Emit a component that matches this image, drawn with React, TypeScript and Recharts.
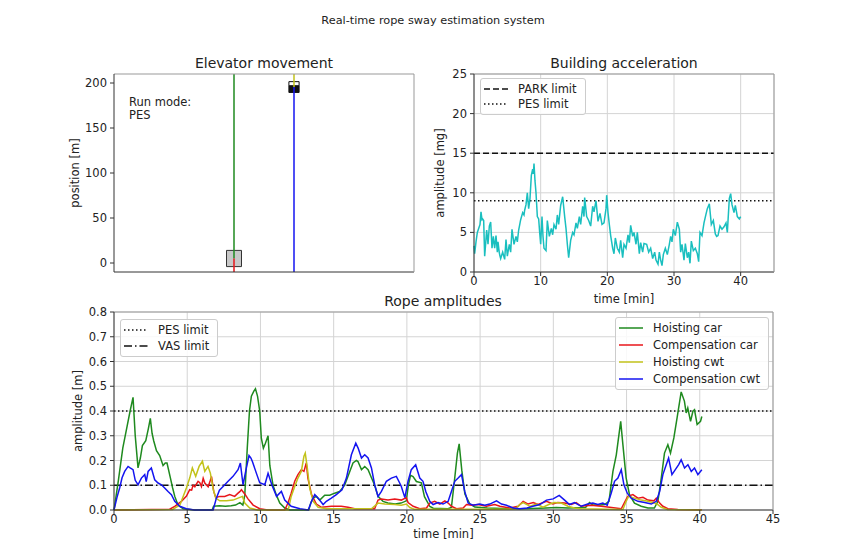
import React from 'react';
import { LineChart, Line, XAxis, YAxis, CartesianGrid, ReferenceLine, ReferenceArea, Legend, Label } from 'recharts';

// ---- elevator movement ----
const SHAFT_TOP = 210;
const SHAFT_BOTTOM = -10;
const CAR_X = 4;
const CWT_X = 6;
const CAR_POSITION = 5;
const CWT_POSITION = 195.5;
const RUN_MODE = 'PES';

// ---- building acceleration (mg) ----
const accTime = [
  0, 0.1, 0.3, 0.5, 0.7, 0.9, 1.05, 1.2, 1.3, 1.45, 1.6, 1.75, 1.9, 2.1, 2.3, 2.5, 2.7, 2.9, 3.1, 3.3,
  3.5, 3.6, 3.8, 3.9, 4.0, 4.3, 4.6, 4.8, 5.0, 5.3, 5.5, 5.7, 6.0, 6.3, 6.5, 6.7, 7.0, 7.3, 7.5, 7.6,
  7.8, 8.0, 8.2, 8.4, 8.6, 8.8, 8.9, 9.0, 9.15, 9.3, 9.5, 9.7, 9.85, 10.0, 10.2, 10.35, 10.5, 10.8, 11.0, 11.3,
  11.6, 11.8, 12.0, 12.3, 12.5, 12.7, 13.0, 13.3, 13.6, 13.8, 14.0, 14.2, 14.5, 14.8, 15.0, 15.3, 15.5, 15.8, 16.0, 16.3,
  16.5, 16.6, 16.9, 17.2, 17.5, 17.8, 18.0, 18.3, 18.6, 18.9, 19.2, 19.5, 19.8, 19.9, 20.1, 20.3, 20.5, 20.8, 21.0, 21.2,
  21.5, 21.8, 22.0, 22.3, 22.5, 22.8, 23.1, 23.3, 23.5, 23.8, 24.0, 24.3, 24.5, 24.8, 25.0, 25.3, 25.5, 25.9, 26.2, 26.5,
  26.8, 27.1, 27.3, 27.6, 27.8, 28.0, 28.2, 28.4, 28.7, 29.0, 29.3, 29.5, 29.7, 29.9, 30.2, 30.5, 30.8, 31.0, 31.2, 31.5,
  31.7, 32.0, 32.2, 32.4, 32.6, 32.9, 33.2, 33.5, 33.7, 33.9, 34.2, 34.5, 34.8, 35.0, 35.3, 35.6, 35.9, 36.2, 36.4, 36.6,
  36.9, 37.2, 37.5, 37.8, 38.0, 38.3, 38.5, 38.7, 39.0, 39.2, 39.5, 39.8, 40.0,
];
const accValue = [
  3.3, 2.3, 3.8, 5.0, 5.5, 6.0, 7.6, 6.6, 6.7, 6.5, 2.0, 3.6, 5.3, 3.5, 5.8, 6.3, 3.0, 4.5, 3.0, 4.6,
  2.5, 3.8, 2.4, 2.0, 1.7, 2.5, 1.6, 4.1, 2.0, 3.5, 2.5, 5.4, 3.5, 4.5, 3.8, 5.3, 6.6, 7.5, 7.2, 7.8,
  8.5, 10.0, 8.0, 9.3, 12.2, 13.0, 12.4, 13.7, 11.5, 10.0, 7.0, 6.7, 5.0, 3.5, 7.0, 4.5, 3.0, 2.7, 6.5, 4.5,
  5.5, 4.7, 6.0, 5.4, 7.2, 6.0, 8.4, 9.5, 7.0, 5.5, 3.5, 1.8, 4.0, 5.0, 4.7, 6.2, 5.5, 7.0, 6.0, 8.3,
  7.0, 9.4, 7.0, 6.5, 5.8, 8.3, 7.6, 9.0, 6.4, 7.4, 6.0, 6.2, 8.0, 9.7, 7.5, 6.0, 4.6, 3.0, 2.3, 4.3,
  3.0, 2.5, 4.0, 1.8, 3.5, 3.0, 4.7, 3.7, 5.9, 4.5, 5.0, 3.5, 5.0, 2.3, 3.7, 2.5, 3.6, 3.5, 2.5, 3.0,
  1.7, 2.5, 1.5, 1.0, 2.5, 1.5, 0.8, 2.2, 3.0, 2.2, 3.5, 4.5, 3.8, 5.4, 4.6, 6.3, 5.4, 2.5, 3.5, 1.5,
  3.6, 1.8, 2.5, 1.1, 3.9, 2.7, 3.0, 2.3, 1.3, 5.0, 4.6, 6.2, 7.3, 8.0, 8.6, 6.0, 6.5, 4.8, 4.5, 4.6,
  5.8, 5.4, 5.7, 6.2, 5.0, 9.3, 9.9, 8.5, 7.5, 8.4, 7.0, 6.7, 7.0,
];
const PARK_LIMIT_MG = 15;
const PES_LIMIT_MG = 9;

// ---- rope amplitudes (m) ----
const hoistCarTime = [
  0, 0.3, 0.6, 0.9, 1.1, 1.3, 1.45, 1.64, 1.8, 1.94, 2.17, 2.35, 2.48, 2.6, 2.71, 2.9, 3.12, 3.35, 3.5, 3.62,
  3.85, 4.0, 4.15, 4.37, 4.72, 5.5, 6.7, 6.8, 7.2, 7.6, 8.0, 8.3, 8.6, 8.8, 8.93, 9.1, 9.25, 9.38, 9.55, 9.66,
  9.8, 9.95, 10.06, 10.2, 10.34, 10.52, 10.64, 10.86, 11.09, 11.32, 11.66, 12, 13.3, 13.45, 13.6, 13.82, 14.05, 14.39, 14.73, 15.07,
  15.41, 15.75, 16.1, 16.32, 16.55, 16.66, 16.9, 17.12, 17.35, 17.58, 17.8, 18.03, 18.37, 18.7, 19.2, 19.6, 19.96, 20.1, 20.25, 20.42,
  20.65, 20.99, 21.2, 21.57, 21.8, 22.8, 23.04, 23.25, 23.45, 23.57, 23.75, 23.96, 24.3, 24.64, 25.5, 27, 28, 29.5, 30.2, 31,
  32.2, 32.47, 32.7, 33.2, 33.5, 33.8, 34.07, 34.3, 34.6, 34.75, 34.97, 35.2, 35.54, 36.0, 36.46, 36.9, 37.14, 37.37, 37.59, 37.82,
  38.0, 38.23, 38.45, 38.73, 38.95, 39.07, 39.18, 39.37, 39.53, 39.64, 39.82, 40.05, 40.14,
];
const hoistCarValue = [
  0, 0.12, 0.25, 0.34, 0.4, 0.455, 0.3, 0.17, 0.21, 0.26, 0.28, 0.33, 0.37, 0.31, 0.28, 0.24, 0.22, 0.18, 0.19, 0.19,
  0.13, 0.09, 0.055, 0.02, 0.005, 0, 0, 0.015, 0.017, 0.015, 0.017, 0.02, 0.03, 0.02, 0.06, 0.25, 0.4, 0.46, 0.48, 0.49,
  0.46, 0.4, 0.29, 0.25, 0.27, 0.3, 0.18, 0.1, 0.06, 0.028, 0.008, 0, 0, 0.03, 0.048, 0.055, 0.04, 0.06, 0.06, 0.068,
  0.075, 0.1, 0.156, 0.19, 0.2, 0.196, 0.163, 0.176, 0.163, 0.13, 0.1, 0.055, 0.035, 0.028, 0.024, 0.028, 0.037, 0.1, 0.14, 0.135,
  0.115, 0.11, 0.054, 0.014, 0.007, 0.005, 0.01, 0.12, 0.23, 0.267, 0.16, 0.065, 0.024, 0.012, 0.008, 0.005, 0.005, 0.008, 0.01, 0.008,
  0.01, 0.03, 0.02, 0.02, 0.022, 0.035, 0.156, 0.223, 0.358, 0.264, 0.13, 0.062, 0.028, 0.015, 0.008, 0.008, 0.035, 0.129, 0.23, 0.264,
  0.23, 0.291, 0.372, 0.477, 0.44, 0.392, 0.412, 0.358, 0.399, 0.405, 0.345, 0.358, 0.378,
];

const compCarTime = [
  0, 3.8, 4.15, 4.6, 4.95, 5.17, 5.3, 5.4, 5.52, 5.74, 5.86, 5.97, 6.09, 6.2, 6.43, 6.58, 6.66, 6.81, 6.95, 7.22,
  7.56, 7.9, 8.24, 8.47, 8.59, 8.7, 8.93, 9.15, 9.5, 9.95, 10.5, 11.66, 11.88, 12.1, 12.34, 12.56, 12.79, 12.97, 13.13, 13.24,
  13.49, 13.82, 14.17, 14.84, 15.52, 15.98, 16.44, 17.8, 18.03, 18.26, 18.71, 19.17, 19.62, 19.96, 20.08, 20.43, 20.88, 21.34, 21.56, 21.9,
  22.25, 22.59, 22.82, 23.04, 23.39, 23.84, 24.07, 24.41, 24.87, 25.43, 26.0, 26.35, 27.03, 27.6, 27.94, 28.28, 28.63, 28.96, 29.53, 29.97,
  30.3, 30.77, 31.22, 31.56, 31.9, 32.58, 33.27, 33.84, 34.64, 34.9, 35.08, 35.43, 35.78, 36.12, 36.46, 36.87, 37.03, 37.26, 37.48, 37.82,
  38.5, 40.14,
];
const compCarValue = [
  0, 0.003, 0.015, 0.035, 0.056, 0.082, 0.08, 0.1, 0.094, 0.116, 0.11, 0.095, 0.128, 0.109, 0.094, 0.12, 0.135, 0.075, 0.05, 0.055,
  0.055, 0.062, 0.055, 0.068, 0.074, 0.082, 0.065, 0.045, 0.02, 0.005, 0, 0, 0.028, 0.068, 0.116, 0.143, 0.163, 0.156, 0.19, 0.129,
  0.062, 0.024, 0.011, 0.015, 0.015, 0.011, 0.005, 0.005, 0.04, 0.044, 0.04, 0.044, 0.04, 0.05, 0.03, 0.015, 0.005, 0.008, 0.028, 0.035,
  0.024, 0.037, 0.028, 0.015, 0.005, 0.008, 0.022, 0.019, 0.022, 0.015, 0.022, 0.015, 0.008, 0.015, 0.035, 0.024, 0.03, 0.022, 0.035, 0.024,
  0.03, 0.028, 0.022, 0.03, 0.015, 0.019, 0.015, 0.011, 0.005, 0.035, 0.055, 0.062, 0.048, 0.051, 0.04, 0.037, 0.048, 0.028, 0.015, 0.005,
  0.002, 0.001,
];

const hoistCwtTime = [
  0, 4.0, 4.5, 4.95, 5.17, 5.35, 5.58, 5.81, 6.04, 6.2, 6.42, 6.58, 6.77, 6.95, 7.22, 7.68, 8.13, 8.47, 8.77, 8.93,
  9.27, 9.8, 11.9, 12.1, 12.34, 12.56, 12.79, 12.97, 13.06, 13.2, 13.36, 13.6, 13.94, 14.5, 17.58, 18.03, 18.49, 19.17, 19.62, 19.96,
  20.2, 20.5, 27.4, 27.7, 27.94, 28.4, 28.85, 29.3, 29.76, 30.08, 30.54, 31.0, 31.45, 31.9, 34.75, 34.97, 35.14, 35.54, 36.0, 36.46,
  36.9, 37.14, 37.37, 37.8, 40.14,
];
const hoistCwtValue = [
  0, 0.002, 0.02, 0.09, 0.129, 0.17, 0.136, 0.176, 0.197, 0.156, 0.176, 0.149, 0.085, 0.048, 0.037, 0.037, 0.04, 0.048, 0.055, 0.028,
  0.008, 0, 0, 0.055, 0.095, 0.129, 0.156, 0.217, 0.23, 0.17, 0.089, 0.035, 0.011, 0.005, 0.005, 0.028, 0.024, 0.022, 0.019, 0.024,
  0.01, 0.003, 0.003, 0.022, 0.03, 0.015, 0.024, 0.011, 0.024, 0.03, 0.028, 0.015, 0.008, 0.005, 0.002, 0.035, 0.055, 0.048, 0.04, 0.035,
  0.028, 0.022, 0.011, 0.002, 0,
];

const compCwtTime = [
  0, 0.2, 0.39, 0.55, 0.73, 0.96, 1.1, 1.3, 1.45, 1.64, 1.87, 2.1, 2.2, 2.33, 2.55, 2.78, 3.01, 3.24, 3.46, 3.69,
  3.92, 4.15, 4.49, 4.94, 5.5, 6.77, 6.99, 7.2, 7.45, 7.79, 8.13, 8.47, 8.63, 8.81, 9.04, 9.22, 9.35, 9.45, 9.72, 9.95,
  10.3, 10.52, 10.79, 11.1, 11.43, 11.66, 12.1, 12.7, 13.26, 13.49, 13.71, 13.94, 14.28, 14.5, 14.84, 15.18, 15.57, 15.87, 16.21, 16.51,
  16.67, 16.9, 17.12, 17.35, 17.58, 17.8, 18.03, 18.26, 18.6, 18.94, 19.28, 19.5, 19.62, 19.86, 20.08, 20.3, 20.6, 20.88, 21.1, 21.29,
  21.56, 21.79, 22.13, 22.47, 22.82, 23.04, 23.27, 23.5, 23.73, 23.95, 24.18, 24.52, 24.98, 25.32, 25.66, 26.12, 26.46, 26.8, 27.26, 27.7,
  28.2, 28.6, 29.08, 29.53, 29.99, 30.4, 30.77, 31.1, 31.45, 31.9, 32.35, 32.7, 33.04, 33.38, 33.68, 33.95, 34.18, 34.41, 34.64, 34.82,
  35.05, 35.32, 35.78, 36.24, 36.69, 37.03, 37.26, 37.48, 37.71, 37.87, 38.1, 38.33, 38.56, 38.73, 38.96, 39.19, 39.42, 39.64, 39.87, 40.14,
];
const compCwtValue = [
  0, 0.05, 0.09, 0.13, 0.156, 0.176, 0.17, 0.163, 0.12, 0.102, 0.129, 0.143, 0.115, 0.156, 0.17, 0.122, 0.109, 0.102, 0.089, 0.075,
  0.062, 0.035, 0.015, 0.005, 0, 0, 0.048, 0.08, 0.095, 0.116, 0.136, 0.163, 0.19, 0.102, 0.17, 0.22, 0.21, 0.196, 0.149, 0.11,
  0.102, 0.148, 0.1, 0.055, 0.075, 0.04, 0.015, 0.005, 0, 0.035, 0.062, 0.048, 0.022, 0.035, 0.048, 0.062, 0.082, 0.129, 0.223, 0.27,
  0.25, 0.21, 0.223, 0.21, 0.17, 0.102, 0.055, 0.075, 0.116, 0.129, 0.136, 0.11, 0.095, 0.05, 0.116, 0.163, 0.183, 0.129, 0.116, 0.075,
  0.035, 0.022, 0.03, 0.024, 0.035, 0.075, 0.116, 0.129, 0.143, 0.075, 0.028, 0.019, 0.024, 0.019, 0.024, 0.037, 0.024, 0.019, 0.008, 0.005,
  0.008, 0.015, 0.022, 0.04, 0.045, 0.059, 0.04, 0.022, 0.03, 0.015, 0.024, 0.028, 0.022, 0.028, 0.019, 0.068, 0.116, 0.129, 0.163, 0.102,
  0.068, 0.048, 0.035, 0.03, 0.024, 0.035, 0.075, 0.143, 0.183, 0.21, 0.143, 0.163, 0.183, 0.203, 0.17, 0.183, 0.156, 0.17, 0.143, 0.163,
];
const PES_LIMIT_M = 0.4;
const VAS_LIMIT_M = 0.1;

const accTicksX = [0, 10, 20, 30, 40];
const accTicksY = [0, 5, 10, 15, 20, 25];
const ropeTicksX = [0, 5, 10, 15, 20, 25, 30, 35, 40, 45];
const ropeTicksY = [0, 0.1, 0.2, 0.3, 0.4, 0.5, 0.6, 0.7, 0.8];
const posTicksY = [0, 50, 100, 150, 200];

const GREEN = '#1f8a1f';
const RED = '#e8161b';
const YELLOW = '#c2c21a';
const BLUE = '#1414f0';
const CYAN = '#1abfbf';
const DARK = '#333333';
const LIGHT = '#999999';
const GRID = '#d4d4d4';
const TEXT = '#222222';
const FONT = '"DejaVu Sans", Verdana, sans-serif';

const DOTTED = '1.5 2.5';
const DASHED = '6 3';
const DASHDOT = '8 3 1.5 3';

const zip = (t: number[], v: number[]) => t.map((x, i) => ({ t: x, v: v[i] }));

const accData = zip(accTime, accValue);
const ropeSeries = [
  { name: 'Hoisting car', color: GREEN, data: zip(hoistCarTime, hoistCarValue) },
  { name: 'Compensation car', color: RED, data: zip(compCarTime, compCarValue) },
  { name: 'Hoisting cwt', color: YELLOW, data: zip(hoistCwtTime, hoistCwtValue) },
  { name: 'Compensation cwt', color: BLUE, data: zip(compCwtTime, compCwtValue) },
];

type LegendItem = { label: string; color: string; dash?: string };

const LegendBox = ({ items, rowHeight }: { items: LegendItem[]; rowHeight: number }) => (
  <div
    style={{
      border: '1px solid #cccccc',
      borderRadius: 3,
      background: 'rgba(255,255,255,0.85)',
      padding: '2px 8px 2px 3px',
      fontFamily: FONT,
    }}
  >
    {items.map((it) => (
      <div key={it.label} style={{ display: 'flex', alignItems: 'center', height: rowHeight }}>
        <svg width={24} height={10}>
          <line x1={0} x2={24} y1={5} y2={5} stroke={it.color} strokeWidth={1.5} strokeDasharray={it.dash} />
        </svg>
        <span style={{ marginLeft: 10, fontSize: 11.5, color: TEXT, whiteSpace: 'nowrap' }}>{it.label}</span>
      </div>
    ))}
  </div>
);

const tickStyle = { fill: TEXT, fontSize: 11.5 };

const Title = ({ x, y, size, children }: { x: number; y: number; size: number; children: React.ReactNode }) => (
  <div
    style={{
      position: 'absolute',
      left: x,
      top: y,
      transform: 'translate(-50%, -50%)',
      fontSize: size,
      color: TEXT,
      whiteSpace: 'nowrap',
    }}
  >
    {children}
  </div>
);

// frame axes: 1px thick so recharts still draws their line (top/right spines)
const FrameTop = ({ domain }: { domain: number[] }) => (
  <XAxis xAxisId="top" orientation="top" type="number" domain={domain} tick={false} tickLine={false} height={1} axisLine={{ stroke: LIGHT }} />
);

const ElevatorChart = () => (
  <LineChart width={390} height={235} margin={{ top: 23, right: 15, bottom: 12, left: 0 }}>
    <XAxis dataKey="x" type="number" domain={[0, 10]} tick={false} tickLine={false} height={1} axisLine={{ stroke: DARK }} />
    {FrameTop({ domain: [0, 10] })}
    <YAxis
      type="number"
      domain={[SHAFT_BOTTOM, SHAFT_TOP]}
      ticks={posTicksY}
      width={74}
      tick={tickStyle}
      tickSize={4}
      tickMargin={3}
      axisLine={{ stroke: DARK }}
      tickLine={{ stroke: DARK }}
    >
      <Label value="position [m]" angle={-90} position="insideLeft" offset={35} style={{ textAnchor: 'middle', fill: TEXT, fontSize: 11.5 }} />
    </YAxis>
    <YAxis yAxisId="right" orientation="right" type="number" domain={[SHAFT_BOTTOM, SHAFT_TOP]} width={1} tick={false} tickLine={false} axisLine={{ stroke: LIGHT }} />
    {/* ropes */}
    <Line data={[{ x: CAR_X, y: CAR_POSITION }, { x: CAR_X, y: SHAFT_TOP }]} dataKey="y" stroke={GREEN} strokeWidth={1.5} dot={false} isAnimationActive={false} />
    <Line data={[{ x: CAR_X, y: SHAFT_BOTTOM }, { x: CAR_X, y: CAR_POSITION }]} dataKey="y" stroke={RED} strokeWidth={1.5} dot={false} isAnimationActive={false} />
    <Line data={[{ x: CWT_X, y: CWT_POSITION }, { x: CWT_X, y: SHAFT_TOP }]} dataKey="y" stroke={YELLOW} strokeWidth={1.5} dot={false} isAnimationActive={false} />
    <Line data={[{ x: CWT_X, y: SHAFT_BOTTOM }, { x: CWT_X, y: CWT_POSITION }]} dataKey="y" stroke={BLUE} strokeWidth={1.5} dot={false} isAnimationActive={false} />
    {/* car and counterweight */}
    <ReferenceArea x1={CAR_X - 0.25} x2={CAR_X + 0.25} y1={CAR_POSITION - 9} y2={CAR_POSITION + 9} fill="#c8c8c8" fillOpacity={1} stroke={DARK} strokeWidth={1} />
    <ReferenceArea x1={CWT_X - 0.17} x2={CWT_X + 0.17} y1={CWT_POSITION - 6} y2={CWT_POSITION + 1.5} fill="#111111" fillOpacity={1} stroke="#111111" />
    <ReferenceArea x1={CWT_X - 0.17} x2={CWT_X + 0.17} y1={CWT_POSITION + 1.5} y2={CWT_POSITION + 6} fill="#ffffff" fillOpacity={1} stroke="#111111" />
  </LineChart>
);

const AccelerationChart = () => (
  <LineChart width={360} height={260} margin={{ top: 23, right: 15, bottom: 0, left: 0 }}>
    <CartesianGrid stroke={GRID} strokeWidth={1} />
    <XAxis
      dataKey="t"
      type="number"
      domain={[0, 45]}
      ticks={accTicksX}
      height={38}
      tick={tickStyle}
      tickSize={4}
      tickMargin={1}
      axisLine={{ stroke: DARK }}
      tickLine={{ stroke: DARK }}
    >
      <Label value="time [min]" position="insideBottom" offset={7} style={{ fill: TEXT, fontSize: 11.5 }} />
    </XAxis>
    {FrameTop({ domain: [0, 45] })}
    <YAxis
      type="number"
      domain={[0, 25]}
      ticks={accTicksY}
      width={44}
      tick={tickStyle}
      tickSize={4}
      tickMargin={3}
      axisLine={{ stroke: DARK }}
      tickLine={{ stroke: DARK }}
    >
      <Label value="amplitude [mg]" angle={-90} position="insideLeft" offset={10} style={{ textAnchor: 'middle', fill: TEXT, fontSize: 11.5 }} />
    </YAxis>
    <YAxis yAxisId="right" orientation="right" type="number" domain={[0, 25]} width={1} tick={false} tickLine={false} axisLine={{ stroke: LIGHT }} />
    <ReferenceLine y={PARK_LIMIT_MG} stroke="#111111" strokeWidth={1.5} strokeDasharray={DASHED} />
    <ReferenceLine y={PES_LIMIT_MG} stroke="#111111" strokeWidth={1.5} strokeDasharray={DOTTED} />
    <Line data={accData} dataKey="v" stroke={CYAN} strokeWidth={1.5} dot={false} isAnimationActive={false} />
    <Legend
      verticalAlign="middle"
      wrapperStyle={{ left: 50, top: 28, width: 'auto' }}
      content={() => (
        <LegendBox
          rowHeight={15.5}
          items={[
            { label: 'PARK limit', color: '#111111', dash: DASHED },
            { label: 'PES limit', color: '#111111', dash: DOTTED },
          ]}
        />
      )}
    />
  </LineChart>
);

const RopeChart = () => (
  <LineChart width={730} height={252} margin={{ top: 21, right: 16, bottom: 0, left: 0 }}>
    <CartesianGrid stroke={GRID} strokeWidth={1} />
    <XAxis
      dataKey="t"
      type="number"
      domain={[0, 45]}
      ticks={ropeTicksX}
      height={32}
      tick={tickStyle}
      tickSize={4}
      tickMargin={1}
      axisLine={{ stroke: DARK }}
      tickLine={{ stroke: DARK }}
    >
      <Label value="time [min]" position="insideBottom" offset={4} style={{ fill: TEXT, fontSize: 11.5 }} />
    </XAxis>
    {FrameTop({ domain: [0, 45] })}
    <YAxis
      type="number"
      domain={[0, 0.8]}
      ticks={ropeTicksY}
      tickFormatter={(v: number) => v.toFixed(1)}
      width={54}
      tick={tickStyle}
      tickSize={4}
      tickMargin={3}
      axisLine={{ stroke: DARK }}
      tickLine={{ stroke: DARK }}
    >
      <Label value="amplitude [m]" angle={-90} position="insideLeft" offset={18} style={{ textAnchor: 'middle', fill: TEXT, fontSize: 11.5 }} />
    </YAxis>
    <YAxis yAxisId="right" orientation="right" type="number" domain={[0, 0.8]} width={1} tick={false} tickLine={false} axisLine={{ stroke: LIGHT }} />
    <ReferenceLine y={PES_LIMIT_M} stroke="#111111" strokeWidth={1.5} strokeDasharray={DOTTED} />
    <ReferenceLine y={VAS_LIMIT_M} stroke="#111111" strokeWidth={1.5} strokeDasharray={DASHDOT} />
    {ropeSeries.map((s) => (
      <Line key={s.name} name={s.name} data={s.data} dataKey="v" stroke={s.color} strokeWidth={1.5} dot={false} isAnimationActive={false} />
    ))}
    <Legend
      verticalAlign="middle"
      wrapperStyle={{ left: 0, top: 0, width: '100%', height: 0 }}
      content={() => (
        <div style={{ position: 'relative' }}>
          <div style={{ position: 'absolute', left: 60, top: 29 }}>
            <LegendBox
              rowHeight={16}
              items={[
                { label: 'PES limit', color: '#111111', dash: DOTTED },
                { label: 'VAS limit', color: '#111111', dash: DASHDOT },
              ]}
            />
          </div>
          <div style={{ position: 'absolute', left: 555, top: 27 }}>
            <LegendBox rowHeight={16.8} items={ropeSeries.map((s) => ({ label: s.name, color: s.color }))} />
          </div>
        </div>
      )}
    />
  </LineChart>
);

export default function App() {
  return (
    <div
      style={{
        position: 'absolute',
        left: 0,
        top: 0,
        width: 844,
        height: 542,
        background: '#ffffff',
        fontFamily: FONT,
        overflow: 'hidden',
      }}
    >
      <Title x={433} y={20} size={11.3}>Real-time rope sway estimation system</Title>
      <Title x={264} y={63} size={14}>Elevator movement</Title>
      <Title x={624} y={63} size={14}>Building acceleration</Title>
      <Title x={443} y={301} size={14}>Rope amplitudes</Title>

      <div style={{ position: 'absolute', left: 40, top: 50 }}>
        <ElevatorChart />
      </div>
      <div style={{ position: 'absolute', left: 129, top: 96, fontSize: 11.5, lineHeight: '12.5px', color: TEXT }}>
        Run mode:
        <br />
        {RUN_MODE}
      </div>

      <div style={{ position: 'absolute', left: 430, top: 50 }}>
        <AccelerationChart />
      </div>

      <div style={{ position: 'absolute', left: 60, top: 290 }}>
        <RopeChart />
      </div>
    </div>
  );
}
